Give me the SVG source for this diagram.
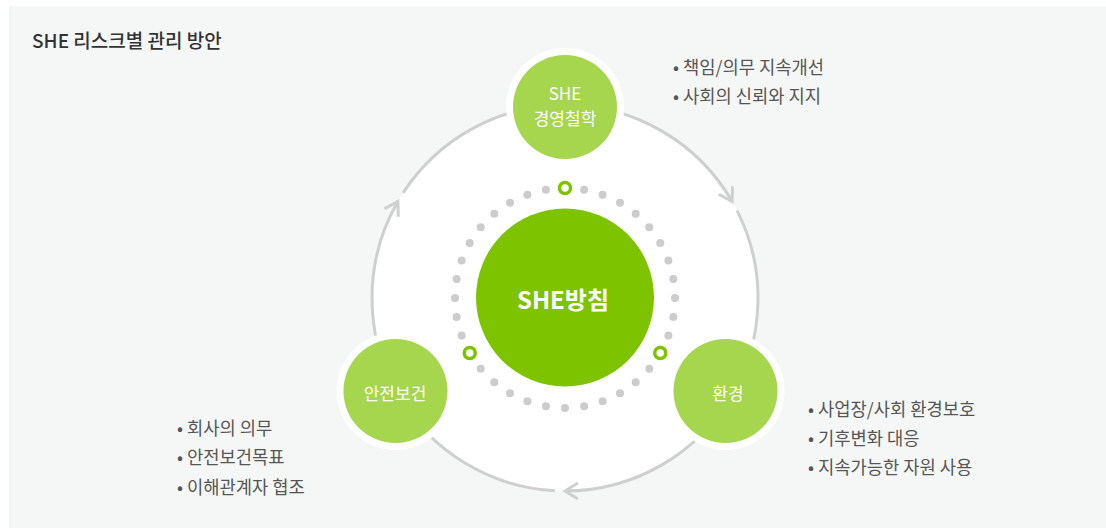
<svg xmlns="http://www.w3.org/2000/svg" width="1106" height="528" viewBox="0 0 1106 528">
<defs>
<style>
.bg{fill:#f5f7f7}
.ring{fill:none;stroke:#cfcfcf;stroke-width:3}
.dot{fill:#cccccc}
.gdot{fill:#ffffff;stroke:#7dc300;stroke-width:3.5}
.halo{fill:#ffffff}
.node{fill:#a6d54e}
.core{fill:#7dc300}
.ntext{font-family:"Noto Sans CJK KR","Noto Sans",sans-serif;font-size:17px;fill:#ffffff;text-anchor:middle}
.ctext{font-family:"Noto Sans CJK KR","Noto Sans",sans-serif;font-size:24px;font-weight:bold;fill:#ffffff;text-anchor:middle}
.title{font-family:"Noto Sans CJK KR","Noto Sans",sans-serif;font-size:19px;font-weight:500;fill:#333333}
.list{font-family:"Noto Sans CJK KR","Noto Sans",sans-serif;font-size:17.7px;fill:#555555}
</style>
<marker id="chev" markerUnits="userSpaceOnUse" viewBox="-16 -11 18 22" refX="0" refY="0" markerWidth="18" markerHeight="22" orient="auto" overflow="visible">
<path d="M-13,-8 L0,0 L-13,8" fill="none" stroke="#cfcfcf" stroke-width="3" stroke-linejoin="miter"/>
</marker>
</defs>
<rect class="bg" x="9" y="6" width="1097" height="522"/>
<text class="title" x="32" y="48">SHE 리스크별 관리 방안</text>
<circle cx="565" cy="298" r="193" fill="#ffffff"/>
<g id="connectors">
<path class="ring" d="M397.86,394.5 A193,193 0 0 1 397.86,201.5" marker-end="url(#chev)"/>
<path class="ring" d="M403.13,192.89 A193,193 0 0 1 565,105"/>
<path class="ring" d="M565,105 A193,193 0 0 1 732.14,201.5" marker-end="url(#chev)"/>
<path class="ring" d="M736.96,210.38 A193,193 0 0 1 732.14,394.5"/>
<path class="ring" d="M732.14,394.5 A193,193 0 0 1 565,491" marker-end="url(#chev)"/>
<path class="ring" d="M554.9,490.74 A193,193 0 0 1 397.86,394.5"/>
</g>
<g id="dots">
<circle class="dot" cx="675" cy="298" r="4"/>
<circle class="dot" cx="673.33" cy="317.1" r="4"/>
<circle class="dot" cx="668.37" cy="335.62" r="4"/>
<circle class="dot" cx="649.26" cy="368.71" r="4"/>
<circle class="dot" cx="635.71" cy="382.26" r="4"/>
<circle class="dot" cx="620" cy="393.26" r="4"/>
<circle class="dot" cx="602.62" cy="401.37" r="4"/>
<circle class="dot" cx="584.1" cy="406.33" r="4"/>
<circle class="dot" cx="565" cy="408" r="4"/>
<circle class="dot" cx="545.9" cy="406.33" r="4"/>
<circle class="dot" cx="527.38" cy="401.37" r="4"/>
<circle class="dot" cx="510" cy="393.26" r="4"/>
<circle class="dot" cx="494.29" cy="382.26" r="4"/>
<circle class="dot" cx="480.74" cy="368.71" r="4"/>
<circle class="dot" cx="461.63" cy="335.62" r="4"/>
<circle class="dot" cx="456.67" cy="317.1" r="4"/>
<circle class="dot" cx="455" cy="298" r="4"/>
<circle class="dot" cx="456.67" cy="278.9" r="4"/>
<circle class="dot" cx="461.63" cy="260.38" r="4"/>
<circle class="dot" cx="469.74" cy="243" r="4"/>
<circle class="dot" cx="480.74" cy="227.29" r="4"/>
<circle class="dot" cx="494.29" cy="213.74" r="4"/>
<circle class="dot" cx="510" cy="202.74" r="4"/>
<circle class="dot" cx="527.38" cy="194.63" r="4"/>
<circle class="dot" cx="545.9" cy="189.67" r="4"/>
<circle class="dot" cx="584.1" cy="189.67" r="4"/>
<circle class="dot" cx="602.62" cy="194.63" r="4"/>
<circle class="dot" cx="620" cy="202.74" r="4"/>
<circle class="dot" cx="635.71" cy="213.74" r="4"/>
<circle class="dot" cx="649.26" cy="227.29" r="4"/>
<circle class="dot" cx="660.26" cy="243" r="4"/>
<circle class="dot" cx="668.37" cy="260.38" r="4"/>
<circle class="dot" cx="673.33" cy="278.9" r="4"/>
<circle class="gdot" cx="565" cy="188" r="5.5"/>
<circle class="gdot" cx="660.26" cy="353" r="5.5"/>
<circle class="gdot" cx="469.74" cy="353" r="5.5"/>
</g>
<g id="node-core">
<circle class="core" cx="565" cy="297.5" r="89"/>
<text class="ctext" x="563" y="309">SHE방침</text>
</g>
<g id="node-philosophy">
<circle class="halo" cx="565" cy="107" r="59"/>
<circle class="node" cx="565" cy="107" r="52"/>
<text class="ntext" x="565" y="100">SHE</text>
<text class="ntext" x="565" y="125">경영철학</text>
</g>
<g id="node-safety">
<circle class="halo" cx="395.5" cy="391" r="59"/>
<circle class="node" cx="395.5" cy="391" r="52"/>
<text class="ntext" x="395" y="400">안전보건</text>
</g>
<g id="node-environment">
<circle class="halo" cx="725.5" cy="391" r="59"/>
<circle class="node" cx="725.5" cy="391" r="52"/>
<text class="ntext" x="728" y="400">환경</text>
</g>
<g id="list-philosophy">
<text class="list" x="673" y="74">• 책임/의무 지속개선</text>
<text class="list" x="673" y="103">• 사회의 신뢰와 지지</text>
</g>
<g id="list-safety">
<text class="list" x="177" y="435">• 회사의 의무</text>
<text class="list" x="177" y="464">• 안전보건목표</text>
<text class="list" x="177" y="494">• 이해관계자 협조</text>
</g>
<g id="list-environment">
<text class="list" x="808" y="416">• 사업장/사회 환경보호</text>
<text class="list" x="808" y="445">• 기후변화 대응</text>
<text class="list" x="808" y="474">• 지속가능한 자원 사용</text>
</g>
</svg>
